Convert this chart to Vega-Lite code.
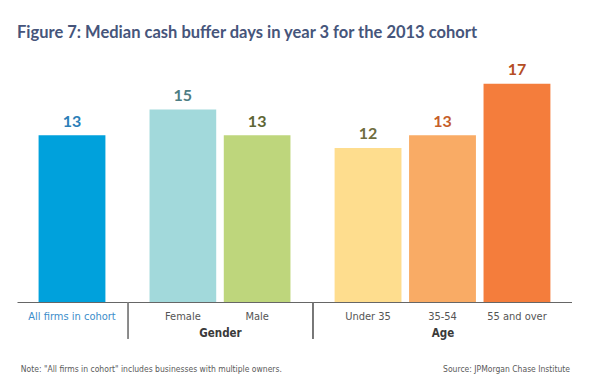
{
  "$schema": "https://vega.github.io/schema/vega-lite/v6.json",
  "padding": {"left": 17, "top": 24, "right": 0, "bottom": 0},
  "title": {
    "text": "Figure 7: Median cash buffer days in year 3 for the 2013 cohort",
    "anchor": "start",
    "frame": "group",
    "font": "Lato, sans-serif",
    "fontSize": 16.5,
    "fontWeight": "bold",
    "color": "#46557b",
    "offset": 21
  },
  "data": {
    "values": [
      {"group": "All", "label": "All firms in cohort", "value": 13},
      {"group": "Gender", "label": "Female", "value": 15},
      {"group": "Gender", "label": "Male", "value": 13},
      {"group": "Age", "label": "Under 35", "value": 12},
      {"group": "Age", "label": "35-54", "value": 13},
      {"group": "Age", "label": "55 and over", "value": 17}
    ]
  },
  "config": {
    "view": {"stroke": null},
    "font": "DejaVu Sans Condensed, sans-serif",
    "axisX": {
      "domainColor": "#666666",
      "domainWidth": 1,
      "ticks": false,
      "tickSize": 0,
      "labelAngle": 0,
      "labelFont": "DejaVu Sans Condensed, sans-serif",
      "labelFontSize": 11,
      "labelColor": "#555555",
      "labelPadding": 8,
      "titleFont": "DejaVu Sans Condensed, sans-serif",
      "titleFontSize": 11.5,
      "titleFontWeight": "bold",
      "titleColor": "#3a3a3a",
      "titlePadding": 6
    }
  },
  "vconcat": [
    {
      "spacing": 0,
      "hconcat": [
        {
          "width": 110,
          "height": 231,
          "transform": [{"filter": "datum.group === 'All'"}],
          "encoding": {
            "x": {"field": "label", "type": "nominal", "sort": null,
                  "scale": {"paddingInner": 0.102, "paddingOuter": 0.29},
                  "axis": {"title": null, "labelColor": "#3b8dca"}},
            "y": {"field": "value", "type": "quantitative",
                  "scale": {"domain": [0, 18], "nice": false}, "axis": null}
          },
          "layer": [
            {"mark": {"type": "bar"},
             "encoding": {"color": {"field": "label", "type": "nominal",
               "scale": {"domain": ["All firms in cohort", "Female", "Male", "Under 35", "35-54", "55 and over"],
                         "range": ["#00a1dc", "#a2d9db", "#bed67c", "#fedd8e", "#f9ab65", "#f47d3c"]},
               "legend": null}}},
            {"mark": {"type": "text", "baseline": "alphabetic", "dy": -8.6, "fontSize": 16, "fontWeight": "bold", "font": "Lato, sans-serif"},
             "encoding": {"text": {"field": "value", "type": "quantitative"},
               "fill": {"field": "label", "type": "nominal",
               "scale": {"domain": ["All firms in cohort", "Female", "Male", "Under 35", "35-54", "55 and over"],
                         "range": ["#2b7fb8", "#4e7d84", "#5e6634", "#6f6d3e", "#c65e2a", "#b54e24"]},
               "legend": null}}}
          ]
        },
        {
          "width": 184,
          "height": 231,
          "transform": [{"filter": "datum.group === 'Gender'"}],
          "encoding": {
            "x": {"field": "label", "type": "nominal", "sort": null,
                  "scale": {"paddingInner": 0.102, "paddingOuter": 0.29},
                  "axis": {"title": "Gender"}},
            "y": {"field": "value", "type": "quantitative",
                  "scale": {"domain": [0, 18], "nice": false}, "axis": null}
          },
          "layer": [
            {"mark": {"type": "bar"},
             "encoding": {"color": {"field": "label", "type": "nominal",
               "scale": {"domain": ["All firms in cohort", "Female", "Male", "Under 35", "35-54", "55 and over"],
                         "range": ["#00a1dc", "#a2d9db", "#bed67c", "#fedd8e", "#f9ab65", "#f47d3c"]},
               "legend": null}}},
            {"mark": {"type": "text", "baseline": "alphabetic", "dy": -8.6, "fontSize": 16, "fontWeight": "bold", "font": "Lato, sans-serif"},
             "encoding": {"text": {"field": "value", "type": "quantitative"},
               "fill": {"field": "label", "type": "nominal",
               "scale": {"domain": ["All firms in cohort", "Female", "Male", "Under 35", "35-54", "55 and over"],
                         "range": ["#2b7fb8", "#4e7d84", "#5e6634", "#6f6d3e", "#c65e2a", "#b54e24"]},
               "legend": null}}},
            {"mark": {"type": "rule", "color": "#666666", "strokeWidth": 1},
             "encoding": {
               "x": {"datum": "Female", "bandPosition": -0.3225},
               "y": {"datum": 0},
               "y2": {"datum": -2.88}
             }}
          ]
        },
        {
          "width": 259,
          "height": 231,
          "transform": [{"filter": "datum.group === 'Age'"}],
          "encoding": {
            "x": {"field": "label", "type": "nominal", "sort": null,
                  "scale": {"paddingInner": 0.102, "paddingOuter": 0.29},
                  "axis": {"title": "Age"}},
            "y": {"field": "value", "type": "quantitative",
                  "scale": {"domain": [0, 18], "nice": false}, "axis": null}
          },
          "layer": [
            {"mark": {"type": "bar"},
             "encoding": {"color": {"field": "label", "type": "nominal",
               "scale": {"domain": ["All firms in cohort", "Female", "Male", "Under 35", "35-54", "55 and over"],
                         "range": ["#00a1dc", "#a2d9db", "#bed67c", "#fedd8e", "#f9ab65", "#f47d3c"]},
               "legend": null}}},
            {"mark": {"type": "text", "baseline": "alphabetic", "dy": -8.6, "fontSize": 16, "fontWeight": "bold", "font": "Lato, sans-serif"},
             "encoding": {"text": {"field": "value", "type": "quantitative"},
               "fill": {"field": "label", "type": "nominal",
               "scale": {"domain": ["All firms in cohort", "Female", "Male", "Under 35", "35-54", "55 and over"],
                         "range": ["#2b7fb8", "#4e7d84", "#5e6634", "#6f6d3e", "#c65e2a", "#b54e24"]},
               "legend": null}}},
            {"mark": {"type": "rule", "color": "#666666", "strokeWidth": 1},
             "encoding": {
               "x": {"datum": "Under 35", "bandPosition": -0.323},
               "y": {"datum": 0},
               "y2": {"datum": -2.88}
             }}
          ]
        }
      ]
    },
    {
      "width": 553,
      "height": 10,
      "data": {"values": [{"note": "Note: \"All firms in cohort\" includes businesses with multiple owners.", "source": "Source: JPMorgan Chase Institute"}]},
      "layer": [
        {"mark": {"type": "text", "align": "left", "baseline": "middle", "fontSize": 8.5, "color": "#5a5a5a"},
         "encoding": {"x": {"datum": 0.007, "type": "quantitative", "scale": {"domain": [0, 1]}, "axis": null},
                      "text": {"field": "note"}}},
        {"mark": {"type": "text", "align": "right", "baseline": "middle", "fontSize": 8.5, "color": "#5a5a5a"},
         "encoding": {"x": {"datum": 1, "type": "quantitative", "scale": {"domain": [0, 1]}, "axis": null},
                      "text": {"field": "source"}}}
      ]
    }
  ],
  "spacing": 24
}
